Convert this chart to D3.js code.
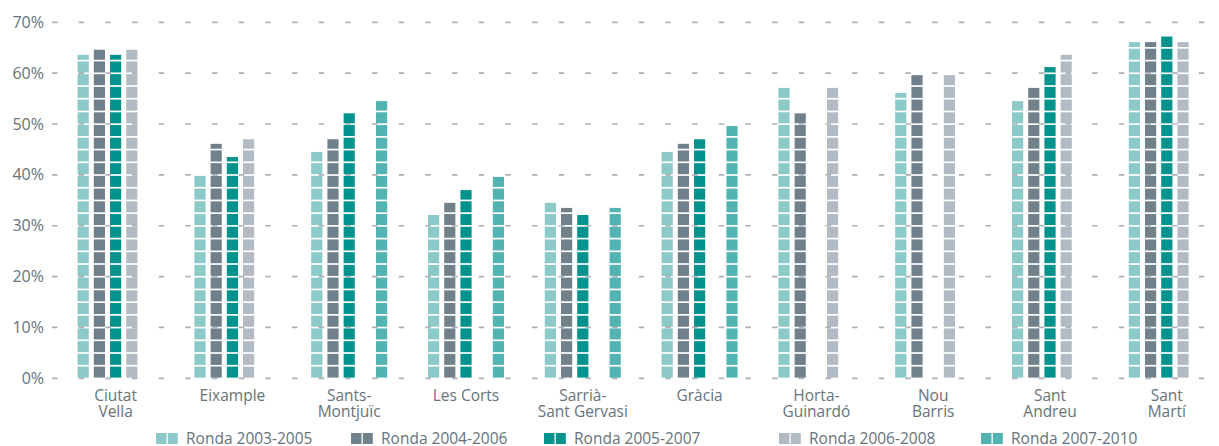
<!DOCTYPE html>
<html>
<head>
<meta charset="utf-8">
<script src="https://cdn.jsdelivr.net/npm/d3@7"></script>
<style>
  body { margin: 0; background: #ffffff; }
  text { font-family: "Open Sans", sans-serif; fill: #66737b; }
</style>
</head>
<body>
<script>
// chart data
var districts = ["Ciutat Vella", "Eixample", "Sants-Montjuïc", "Les Corts", "Sarrià-Sant Gervasi",
                 "Gràcia", "Horta-Guinardó", "Nou Barris", "Sant Andreu", "Sant Martí"];
var districtLines = [["Ciutat", "Vella"], ["Eixample"], ["Sants-", "Montjuïc"], ["Les Corts"],
                     ["Sarrià-", "Sant Gervasi"], ["Gràcia"], ["Horta-", "Guinardó"],
                     ["Nou", "Barris"], ["Sant", "Andreu"], ["Sant", "Martí"]];
var seriesNames = ["Ronda 2003-2005", "Ronda 2004-2006", "Ronda 2005-2007", "Ronda 2006-2008", "Ronda 2007-2010"];
var ronda0305 = [63.8, 40.0, 44.7, 32.3, 34.7, 44.7, 57.3, 56.3, 54.7, 66.3];
var ronda0406 = [64.8, 46.3, 47.2, 34.7, 33.7, 46.3, 52.3, 59.8, 57.3, 66.3];
var ronda0507 = [63.8, 43.7, 52.3, 37.2, 32.3, 47.2, null, null, 61.4, 67.4];
var ronda0608 = [64.8, 47.2, null, null, null, null, 57.3, 59.8, 63.8, 66.3];
var ronda0710 = [null, null, 54.7, 39.8, 33.7, 49.8, null, null, null, null];
var yTicks = [0, 10, 20, 30, 40, 50, 60, 70];

var colors = ["#8cc9c9", "#71818b", "#00938e", "#b2bbc3", "#52b3b3"];
var legendX = [156, 351, 544, 779, 981];

function drawChart()
{
    var width = 1219,
        height = 446,
        step = 2.5,   // every block of a bar is 2.5 %
        gap = 1.7;

    var seriesValues = [ronda0305, ronda0406, ronda0507, ronda0608, ronda0710];

    var svg = d3.select("body").append("svg")
        .attr("width", width)
        .attr("height", height);

    var y = d3.scaleLinear().domain([0, 70]).range([378.3, 22.3]);

    var x0 = d3.scaleBand()
        .domain(districts)
        .range([57.6, 57.6 + 116.8 * districts.length])
        .padding(0);

    var x1 = d3.scaleBand()
        .domain(seriesNames)
        .range([20, 96])
        .paddingInner(0.31)
        .paddingOuter(0);

    // blocks
    var blocks = [];
    districts.forEach(function(d, i) {
        seriesNames.forEach(function(s, j) {
            var v = seriesValues[j][i];
            if (v == null) return;
            for (var lo = 0; lo < v - 0.01; lo += step) {
                blocks.push({ district: d, series: s, idx: j, lo: lo, hi: Math.min(v, lo + step) });
            }
        });
    });

    svg.append("g").attr("class", "bars")
        .selectAll("rect")
        .data(blocks)
        .join("rect")
        .attr("x", function(b) { return x0(b.district) + x1(b.series); })
        .attr("y", function(b) { return y(b.hi) + 1; })
        .attr("width", x1.bandwidth())
        .attr("height", function(b) { return Math.max(0.5, y(b.lo) - y(b.hi) - gap); })
        .attr("fill", function(b) { return colors[b.idx]; });

    // dashed grid on top of the bars
    svg.append("g").attr("class", "grid")
        .selectAll("line")
        .data(yTicks)
        .join("line")
        .attr("x1", 52)
        .attr("x2", 1206)
        .attr("y1", function(d) { return y(d); })
        .attr("y2", function(d) { return y(d); })
        .attr("stroke", "#8d989f")
        .attr("stroke-opacity", 0.75)
        .attr("stroke-width", 1.7)
        .attr("stroke-dasharray", "5.5 21.17");

    svg.append("g").attr("class", "yLabels")
        .selectAll("text")
        .data(yTicks)
        .join("text")
        .attr("x", 44)
        .attr("y", function(d) { return y(d); })
        .attr("dy", "0.35em")
        .attr("text-anchor", "end")
        .style("font-size", "16px")
        .text(function(d) { return d + "%"; });

    var xl = svg.append("g").attr("class", "xLabels")
        .selectAll("text")
        .data(districts)
        .join("text")
        .attr("text-anchor", "middle")
        .style("font-size", "15.5px");

    xl.selectAll("tspan")
        .data(function(d, i) { return districtLines[i].map(function(t) { return { d: d, t: t }; }); })
        .join("tspan")
        .attr("x", function(o) { return x0(o.d) + x0.bandwidth() / 2 - 0.4; })
        .attr("y", function(o, k) { return 401 + k * 16; })
        .text(function(o) { return o.t; });

    // legend
    var leg = svg.append("g").attr("class", "legend")
        .selectAll("g")
        .data(seriesNames)
        .join("g")
        .attr("transform", function(d, i) { return "translate(" + legendX[i] + ",433)"; });

    leg.append("rect").attr("x", 0).attr("width", 10.5).attr("height", 11)
        .attr("fill", function(d, i) { return colors[i]; });
    leg.append("rect").attr("x", 11.8).attr("width", 10).attr("height", 11)
        .attr("fill", function(d, i) { return colors[i]; });
    leg.append("text")
        .attr("x", 30)
        .attr("y", 10.5)
        .style("font-size", "15.5px")
        .text(function(d) { return d; });
}

drawChart();
</script>
</body>
</html>
